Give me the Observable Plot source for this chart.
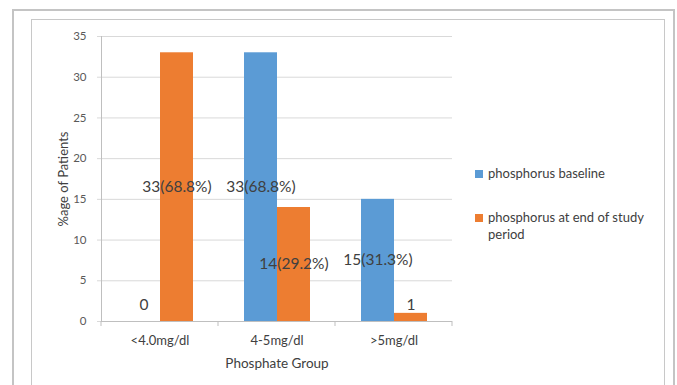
<!DOCTYPE html>
<html>
<head>
<meta charset="utf-8">
<script src="https://cdn.jsdelivr.net/npm/d3@7"></script>
<script src="https://cdn.jsdelivr.net/npm/@observablehq/plot@0.6"></script>
<style>
  body { margin: 0; background: #fff; }
  #wrap { position: relative; width: 677px; height: 385px; overflow: hidden; background: #fff; font-family: Lato, "Open Sans", sans-serif; }
  .box { position: absolute; box-sizing: border-box; background: transparent; }
  #outer { left: 12px; top: 9px; width: 663px; height: 420px; border: 2px solid #c4c4c4; }
  #inner { left: 31px; top: 19px; width: 634px; height: 420px; border: 1.5px solid #c8c8c8; }
  #chart { position: absolute; left: 0; top: 0; }
  #legend { position: absolute; left: 475px; top: 165px; width: 185px; font-size: 13px; color: #404040; line-height: 17px; }
  .item { position: relative; padding-left: 13px; }
  .sw { position: absolute; left: 0; top: 5px; width: 8px; height: 8px; }
</style>
</head>
<body>
<div id="wrap">
  <div class="box" id="outer"></div>
  <div class="box" id="inner"></div>
  <div id="chart"></div>
  <div id="legend"></div>
</div>
<script>
const categories = ["<4.0mg/dl", "4-5mg/dl", ">5mg/dl"];
const series = ["phosphorus baseline", "phosphorus at end of study period"];
const baseline = [0, 33, 15];
const endStudy = [33, 14, 1];
const baselineLabels = ["0", "33(68.8%)", "15(31.3%)"];
const endLabels = ["33(68.8%)", "14(29.2%)", "1"];
const yTicks = [0, 5, 10, 15, 20, 25, 30, 35];
const colors = ["#5B9BD5", "#ED7D31"];

const data = categories.flatMap((c, i) => [
  {cat: c, series: series[0], value: baseline[i], label: baselineLabels[i]},
  {cat: c, series: series[1], value: endStudy[i], label: endLabels[i]}
]);

const plot = Plot.plot({
  width: 677,
  height: 385,
  marginLeft: 100,
  marginRight: 225,
  marginTop: 36,
  marginBottom: 64,
  style: {fontFamily: "Lato, 'Open Sans', sans-serif", background: "transparent", color: "#595959", overflow: "visible"},
  fx: {domain: categories, padding: 0, axis: null},
  x: {domain: series, paddingInner: 0, paddingOuter: 0.75, axis: null},
  y: {domain: [0, 35], axis: null},
  color: {domain: series, range: colors},
  marks: [
    Plot.gridY(yTicks, {stroke: "#d9d9d9", strokeOpacity: 1}),
    Plot.axisY(yTicks, {tickSize: 4, tickPadding: 11, stroke: "#d9d9d9", fill: "#595959", fontSize: 11.5, label: null}),
    Plot.axisY({ticks: [], tickSize: 0, label: "%age of Patients", labelAnchor: "center", labelOffset: 43, labelArrow: "none", fontSize: 13, fill: "#404040", dy: -4}),
    Plot.axisFx({anchor: "bottom", tickSize: 0, tickPadding: 14, fontSize: 13, fill: "#404040", label: null}),
    Plot.axisFx({anchor: "bottom", ticks: [], tickSize: 0, fontSize: 13.5, fill: "#404040", label: "Phosphate Group", labelAnchor: "center", labelOffset: 46, labelArrow: "none"}),
    Plot.barY(data, {fx: "cat", x: "series", y: "value", fill: "series"}),
    Plot.ruleY([0], {stroke: "#bfbfbf"}),
    Plot.frame({anchor: "left", facet: "super", stroke: "#bfbfbf"}),
    Plot.text(data, {fx: "cat", x: "series", y: d => Math.max(d.value / 2, 2), text: "label", fontSize: 15.5, fill: "#404040"})
  ]
});
document.getElementById("chart").appendChild(plot);

// category boundary tick marks on the x axis, placed with the fx scale
const fx = plot.scale("fx");
const yS = plot.scale("y");
const bounds = categories.map(c => fx.apply(c)).concat([fx.apply(categories[categories.length - 1]) + fx.bandwidth]);
const y0 = yS.apply(0);
const svg = d3.select(plot.tagName.toLowerCase() === "svg" ? plot : plot.querySelector("svg"));
svg.append("g").selectAll("line").data(bounds).join("line")
  .attr("x1", d => d).attr("x2", d => d)
  .attr("y1", y0).attr("y2", y0 + 5)
  .attr("stroke", "#bfbfbf");

// legend
const legend = d3.select("#legend");
legend.selectAll(".item").data(series).join("div")
  .attr("class", "item")
  .style("margin-bottom", (d, i) => i === 0 ? "27px" : "0px")
  .html((d, i) => `<span class="sw" style="background:${colors[i]}"></span>${d}`);
</script>
</body>
</html>
